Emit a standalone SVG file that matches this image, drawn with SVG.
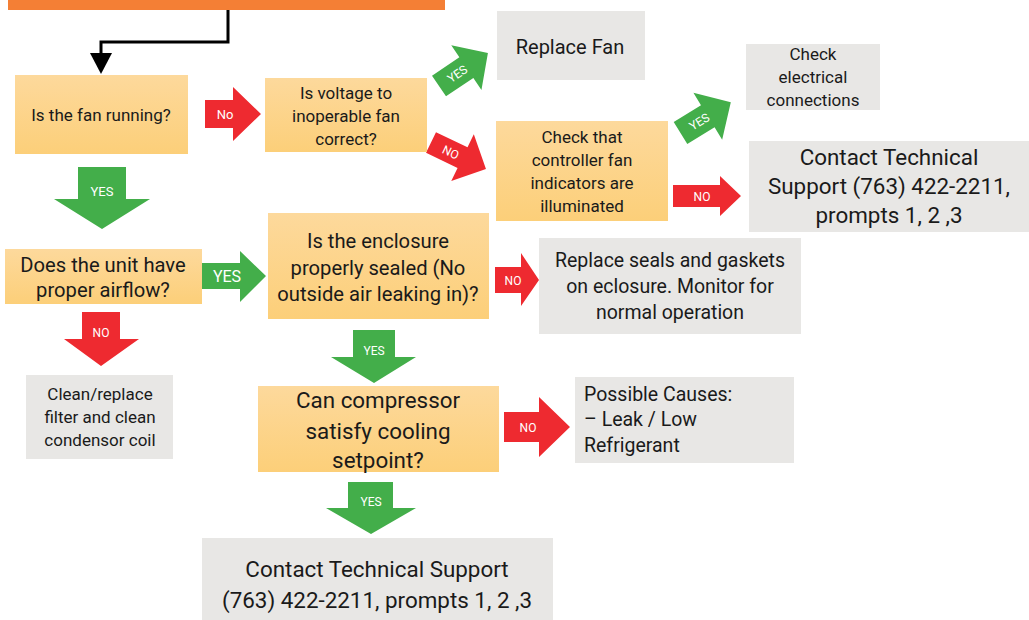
<svg xmlns="http://www.w3.org/2000/svg" width="1029" height="620" viewBox="0 0 1029 620">
<defs>
<linearGradient id="og" x1="0" y1="0" x2="0" y2="1">
<stop offset="0" stop-color="#FDD99C"/>
<stop offset="1" stop-color="#FCCF79"/>
</linearGradient>
<style>
.q{fill:url(#og)}
.g{fill:#E8E7E5}
.t{font-family:Roboto,"Liberation Sans",sans-serif;fill:#1a1a1a;text-anchor:middle}
.l{font-family:Roboto,"Liberation Sans",sans-serif;fill:#ffffff;text-anchor:middle;font-size:12px}
.ga{fill:#43AE4A}
.ra{fill:#EE2A30}
</style>
</defs>
<rect width="1029" height="620" fill="#ffffff"/>
<rect x="8" y="0" width="437" height="10" fill="#F47F35"/>

<g id="connectors">
<polyline points="228,10 228,42 101,42 101,56" fill="none" stroke="#000" stroke-width="3"/>
<polygon points="90,53 112,53 101,74" fill="#000"/>

<g transform="translate(205,114)"><path class="ra" d="M0,-14 L28,-14 L28,-27 L56,0 L28,27 L28,14 L0,14 Z"/><text class="l" x="20" y="4.5" style="font-size:13px">No</text></g>
<g transform="translate(439,86) rotate(-34)"><path class="ga" d="M0,-12.5 L33,-12.5 L33,-27 L59,0 L33,27 L33,12.5 L0,12.5 Z"/><text class="l" x="22" y="4.5">YES</text></g>
<g transform="translate(431,142.5) rotate(25.7)"><path class="ra" d="M0,-11.5 L35,-11.5 L35,-26 L61,0 L35,26 L35,11.5 L0,11.5 Z"/><text class="l" x="22" y="4.5">NO</text></g>
<g transform="translate(680.5,133) rotate(-31.5)"><path class="ga" d="M0,-13 L32,-13 L32,-27.5 L59,0 L32,27.5 L32,13 L0,13 Z"/><text class="l" x="22" y="4.5">YES</text></g>
<g transform="translate(673,196)"><path class="ra" d="M0,-11 L47,-11 L47,-20 L68,0 L47,20 L47,11 L0,11 Z"/><text class="l" x="29" y="4.5">NO</text></g>

<g transform="translate(102,167)"><path class="ga" d="M-24,0 L24,0 L24,32 L48,32 L0,62 L-48,32 L-24,32 Z"/><text class="l" x="0" y="29" style="font-size:13px">YES</text></g>
<g transform="translate(202,276)"><path class="ga" d="M0,-13 L38,-13 L38,-25 L64,0 L38,26 L38,13 L0,13 Z"/><text class="l" x="25" y="6" style="font-size:16px">YES</text></g>
<g transform="translate(101,312)"><path class="ra" d="M-19,0 L19,0 L19,27 L38,27 L0,54 L-37,27 L-19,27 Z"/><text class="l" x="0" y="25">NO</text></g>
<g transform="translate(495,280)"><path class="ra" d="M0,-13 L26,-13 L26,-27 L44,0 L26,26 L26,13 L0,13 Z"/><text class="l" x="18" y="4.5">NO</text></g>
<g transform="translate(374,330)"><path class="ga" d="M-21,0 L21,0 L21,27 L42,27 L0,53 L-43,27 L-21,27 Z"/><text class="l" x="0" y="25">YES</text></g>
<g transform="translate(504,427)"><path class="ra" d="M0,-15 L35,-15 L35,-30 L66,0 L35,30 L35,15 L0,15 Z"/><text class="l" x="24" y="4.5">NO</text></g>
<g transform="translate(371,482)"><path class="ga" d="M-23,0 L22,0 L22,26 L45,26 L0,52 L-45,26 L-23,26 Z"/><text class="l" x="0" y="24">YES</text></g>
</g>

<g id="n-fan-running"><rect class="q" x="15" y="75" width="173" height="79"/><text class="t" x="101" y="121" font-size="17">Is the fan running?</text></g>
<g id="n-voltage"><rect class="q" x="265" y="78" width="162" height="74"/><text class="t" font-size="17"><tspan x="346" y="99">Is voltage to</tspan><tspan x="346" y="122">inoperable fan</tspan><tspan x="346" y="145">correct?</tspan></text></g>
<g id="n-replace-fan"><rect class="g" x="497" y="11" width="148" height="69"/><text class="t" x="570" y="54" font-size="20">Replace Fan</text></g>
<g id="n-check-controller"><rect class="q" x="496" y="121" width="172" height="100"/><text class="t" font-size="17"><tspan x="582" y="143">Check that</tspan><tspan x="582" y="166">controller fan</tspan><tspan x="582" y="189">indicators are</tspan><tspan x="582" y="212">illuminated</tspan></text></g>
<g id="n-check-electrical"><rect class="g" x="746" y="44" width="134" height="66"/><text class="t" font-size="17"><tspan x="813" y="60">Check</tspan><tspan x="813" y="83">electrical</tspan><tspan x="813" y="106">connections</tspan></text></g>
<g id="n-contact-1"><rect class="g" x="749" y="141" width="280" height="91"/><text class="t" font-size="22.4"><tspan x="889" y="165">Contact Technical</tspan><tspan x="889" y="194">Support (763) 422-2211,</tspan><tspan x="889" y="223">prompts 1, 2 ,3</tspan></text></g>
<g id="n-airflow"><rect class="q" x="5" y="249" width="197" height="55"/><text class="t" font-size="20.2"><tspan x="103" y="272">Does the unit have</tspan><tspan x="103" y="297">proper airflow?</tspan></text></g>
<g id="n-enclosure"><rect class="q" x="268" y="213" width="221" height="106"/><text class="t" font-size="20.2"><tspan x="378" y="248">Is the enclosure</tspan><tspan x="378" y="275">properly sealed (No</tspan><tspan x="378" y="301">outside air leaking in)?</tspan></text></g>
<g id="n-replace-seals"><rect class="g" x="539" y="238" width="262" height="96"/><text class="t" font-size="19.5"><tspan x="670" y="267">Replace seals and gaskets</tspan><tspan x="670" y="293">on eclosure. Monitor for</tspan><tspan x="670" y="319">normal operation</tspan></text></g>
<g id="n-clean"><rect class="g" x="26" y="375" width="147" height="84"/><text class="t" font-size="17"><tspan x="100" y="400">Clean/replace</tspan><tspan x="100" y="423">filter and clean</tspan><tspan x="100" y="446">condensor coil</tspan></text></g>
<g id="n-compressor"><rect class="q" x="258" y="386" width="241" height="86"/><text class="t" font-size="22.4"><tspan x="378" y="408">Can compressor</tspan><tspan x="378" y="439">satisfy cooling</tspan><tspan x="378" y="468">setpoint?</tspan></text></g>
<g id="n-causes"><rect class="g" x="575" y="377" width="219" height="86"/><text class="t" font-size="19.5" style="text-anchor:start"><tspan x="584" y="401">Possible Causes:</tspan><tspan x="584" y="426">– Leak / Low</tspan><tspan x="584" y="452">Refrigerant</tspan></text></g>
<g id="n-contact-2"><rect class="g" x="202" y="538" width="351" height="82"/><text class="t" font-size="22.4"><tspan x="377" y="577">Contact Technical Support</tspan><tspan x="377" y="608">(763) 422-2211, prompts 1, 2 ,3</tspan></text></g>
</svg>
